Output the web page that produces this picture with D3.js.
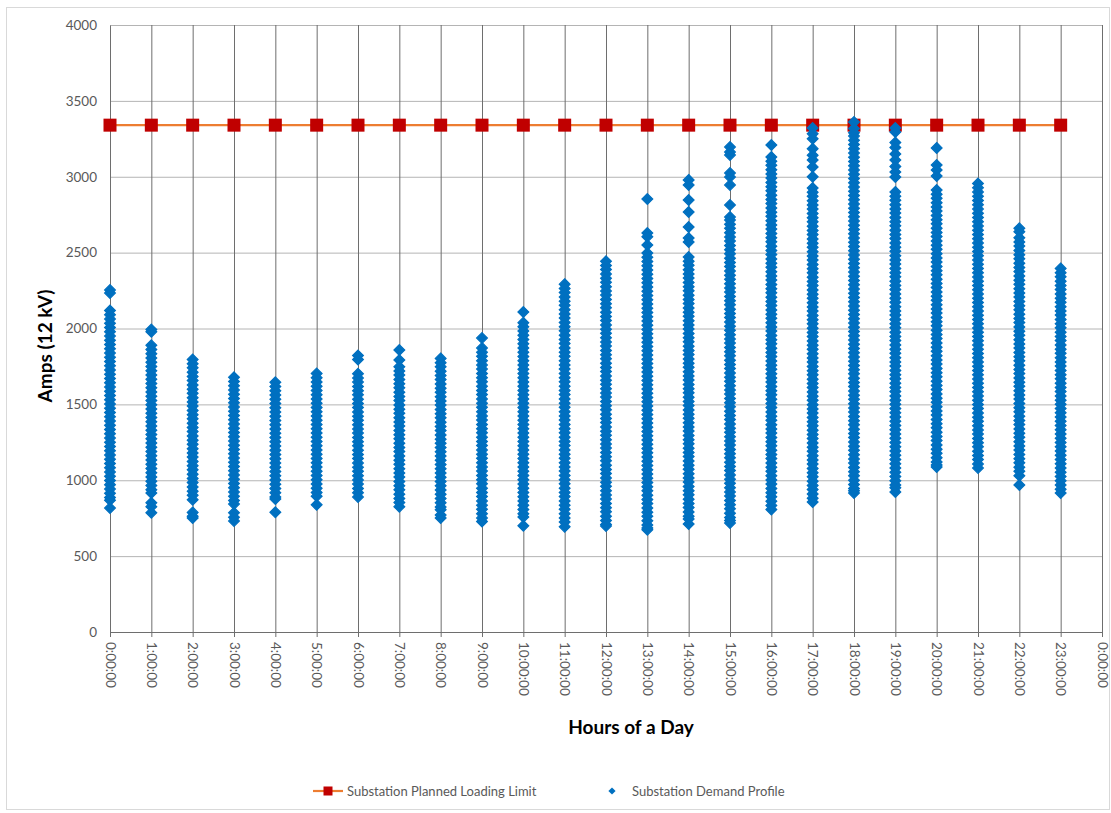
<!DOCTYPE html>
<html>
<head>
<meta charset="utf-8">
<script src="https://cdn.jsdelivr.net/npm/d3@7"></script>
<style>
  body { margin: 0; background: #fff; }
  text { font-family: Lato, "Open Sans", sans-serif; }
</style>
</head>
<body>
<div id="chart"></div>
<script>
// hours of the day (x categories) and their tick labels
var hours = d3.range(0, 25);
var hour_labels = ["0:00:00","1:00:00","2:00:00","3:00:00","4:00:00","5:00:00","6:00:00","7:00:00",
  "8:00:00","9:00:00","10:00:00","11:00:00","12:00:00","13:00:00","14:00:00","15:00:00","16:00:00",
  "17:00:00","18:00:00","19:00:00","20:00:00","21:00:00","22:00:00","23:00:00","0:00:00"];
var amp_ticks = [0, 500, 1000, 1500, 2000, 2500, 3000, 3500, 4000];

// planned loading limit, one marker per hour 0..23
var limit_hours = d3.range(0, 24);
var limit_value = 3340;

// demand readings (amps), one list per hour
var demand_h0 = [2254, 2234, 2118, 2090, 2063, 2034, 2006, 1979, 1950, 1922, 1895, 1866, 1838, 1811, 1782, 1754, 1727, 1698, 1670, 1643, 1614, 1586, 1559, 1530, 1502, 1475, 1446, 1418, 1391, 1362, 1334, 1307, 1278, 1250, 1223, 1194, 1166, 1139, 1110, 1082, 1055, 1026, 998, 971, 942, 914, 887, 868, 817];
var demand_h1 = [1993, 1978, 1889, 1861, 1834, 1805, 1777, 1750, 1721, 1693, 1666, 1637, 1609, 1582, 1553, 1525, 1498, 1469, 1441, 1414, 1385, 1357, 1330, 1301, 1273, 1246, 1217, 1189, 1162, 1133, 1105, 1078, 1049, 1021, 994, 965, 937, 916, 851, 826, 786];
var demand_h2 = [1796, 1768, 1741, 1712, 1684, 1657, 1628, 1600, 1573, 1544, 1516, 1489, 1460, 1432, 1405, 1376, 1348, 1321, 1292, 1264, 1237, 1208, 1180, 1153, 1124, 1096, 1069, 1040, 1012, 985, 956, 928, 901, 872, 788, 762, 752];
var demand_h3 = [1678, 1650, 1623, 1594, 1566, 1539, 1510, 1482, 1455, 1426, 1398, 1371, 1342, 1314, 1287, 1258, 1230, 1203, 1174, 1146, 1119, 1090, 1062, 1035, 1006, 978, 951, 922, 894, 867, 843, 786, 756, 732];
var demand_h4 = [1645, 1617, 1590, 1561, 1533, 1506, 1477, 1449, 1422, 1393, 1365, 1338, 1309, 1281, 1254, 1225, 1197, 1170, 1141, 1113, 1086, 1057, 1029, 1002, 973, 945, 918, 889, 876, 789];
var demand_h5 = [1703, 1675, 1648, 1619, 1591, 1564, 1535, 1507, 1480, 1451, 1423, 1396, 1367, 1339, 1312, 1283, 1255, 1228, 1199, 1171, 1144, 1115, 1087, 1060, 1031, 1003, 976, 947, 919, 895, 838];
var demand_h6 = [1822, 1796, 1702, 1674, 1647, 1618, 1590, 1563, 1534, 1506, 1479, 1450, 1422, 1395, 1366, 1338, 1311, 1282, 1254, 1227, 1198, 1170, 1143, 1114, 1086, 1059, 1030, 1002, 975, 946, 918, 889];
var demand_h7 = [1858, 1792, 1748, 1720, 1693, 1664, 1636, 1609, 1580, 1552, 1525, 1496, 1468, 1441, 1412, 1384, 1357, 1328, 1300, 1273, 1244, 1216, 1189, 1160, 1132, 1105, 1076, 1048, 1021, 992, 964, 937, 908, 880, 853, 826];
var demand_h8 = [1803, 1775, 1748, 1719, 1691, 1664, 1635, 1607, 1580, 1551, 1523, 1496, 1467, 1439, 1412, 1383, 1355, 1328, 1299, 1271, 1244, 1215, 1187, 1160, 1131, 1103, 1076, 1047, 1019, 992, 963, 935, 908, 879, 851, 824, 806, 771, 752];
var demand_h9 = [1937, 1872, 1844, 1817, 1788, 1760, 1733, 1704, 1676, 1649, 1620, 1592, 1565, 1536, 1508, 1481, 1452, 1424, 1397, 1368, 1340, 1313, 1284, 1256, 1229, 1200, 1172, 1145, 1116, 1088, 1061, 1032, 1004, 977, 948, 920, 893, 864, 836, 809, 780, 752, 728];
var demand_h10 = [2109, 2038, 2011, 1983, 1956, 1927, 1899, 1872, 1843, 1815, 1788, 1759, 1731, 1704, 1675, 1647, 1620, 1591, 1563, 1536, 1507, 1479, 1452, 1423, 1395, 1368, 1339, 1311, 1284, 1255, 1227, 1200, 1171, 1143, 1116, 1087, 1059, 1032, 1003, 975, 948, 919, 891, 864, 835, 807, 780, 758, 700];
var demand_h11 = [2292, 2264, 2237, 2208, 2180, 2153, 2124, 2096, 2069, 2040, 2012, 1985, 1956, 1928, 1901, 1872, 1844, 1817, 1788, 1760, 1733, 1704, 1676, 1649, 1620, 1592, 1565, 1536, 1508, 1481, 1452, 1424, 1397, 1368, 1340, 1313, 1284, 1256, 1229, 1200, 1172, 1145, 1116, 1088, 1061, 1032, 1004, 977, 948, 920, 893, 864, 836, 809, 780, 752, 725, 694];
var demand_h12 = [2443, 2415, 2388, 2359, 2331, 2304, 2275, 2247, 2220, 2191, 2163, 2136, 2107, 2079, 2052, 2023, 1995, 1968, 1939, 1911, 1884, 1855, 1827, 1800, 1771, 1743, 1716, 1687, 1659, 1632, 1603, 1575, 1548, 1519, 1491, 1464, 1435, 1407, 1380, 1351, 1323, 1296, 1267, 1239, 1212, 1183, 1155, 1128, 1099, 1071, 1044, 1015, 987, 960, 931, 903, 876, 847, 819, 792, 763, 735, 708, 698];
var demand_h13 = [2853, 2629, 2605, 2550, 2497, 2469, 2442, 2413, 2385, 2358, 2329, 2301, 2274, 2245, 2217, 2190, 2161, 2133, 2106, 2077, 2049, 2022, 1993, 1965, 1938, 1909, 1881, 1854, 1825, 1797, 1770, 1741, 1713, 1686, 1657, 1629, 1602, 1573, 1545, 1518, 1489, 1461, 1434, 1405, 1377, 1350, 1321, 1293, 1266, 1237, 1209, 1182, 1153, 1125, 1098, 1069, 1041, 1014, 985, 957, 930, 901, 873, 846, 817, 789, 762, 733, 705, 686, 674];
var demand_h14 = [2979, 2946, 2847, 2768, 2669, 2596, 2570, 2471, 2443, 2416, 2387, 2359, 2332, 2303, 2275, 2248, 2219, 2191, 2164, 2135, 2107, 2080, 2051, 2023, 1996, 1967, 1939, 1912, 1883, 1855, 1828, 1799, 1771, 1744, 1715, 1687, 1660, 1631, 1603, 1576, 1547, 1519, 1492, 1463, 1435, 1408, 1379, 1351, 1324, 1295, 1267, 1240, 1211, 1183, 1156, 1127, 1099, 1072, 1043, 1015, 988, 959, 931, 904, 875, 847, 820, 791, 763, 745, 712];
var demand_h15 = [3196, 3163, 3143, 3025, 2998, 2946, 2814, 2735, 2715, 2687, 2660, 2631, 2603, 2576, 2547, 2519, 2492, 2463, 2435, 2408, 2379, 2351, 2324, 2295, 2267, 2240, 2211, 2183, 2156, 2127, 2099, 2072, 2043, 2015, 1988, 1959, 1931, 1904, 1875, 1847, 1820, 1791, 1763, 1736, 1707, 1679, 1652, 1623, 1595, 1568, 1539, 1511, 1484, 1455, 1427, 1400, 1371, 1343, 1316, 1287, 1259, 1232, 1203, 1175, 1148, 1119, 1091, 1064, 1035, 1007, 980, 951, 923, 896, 867, 839, 812, 783, 755, 735, 718];
var demand_h16 = [3209, 3130, 3102, 3075, 3046, 3018, 2991, 2962, 2934, 2907, 2878, 2850, 2823, 2794, 2766, 2739, 2710, 2682, 2655, 2626, 2598, 2571, 2542, 2514, 2487, 2458, 2430, 2403, 2374, 2346, 2319, 2290, 2262, 2235, 2206, 2178, 2151, 2122, 2094, 2067, 2038, 2010, 1983, 1954, 1926, 1899, 1870, 1842, 1815, 1786, 1758, 1731, 1702, 1674, 1647, 1618, 1590, 1563, 1534, 1506, 1479, 1450, 1422, 1395, 1366, 1338, 1311, 1282, 1254, 1227, 1198, 1170, 1143, 1114, 1086, 1059, 1030, 1002, 975, 946, 918, 891, 862, 834, 807];
var demand_h17 = [3321, 3283, 3250, 3185, 3141, 3110, 3065, 3000, 2926, 2898, 2871, 2842, 2814, 2787, 2758, 2730, 2703, 2674, 2646, 2619, 2590, 2562, 2535, 2506, 2478, 2451, 2422, 2394, 2367, 2338, 2310, 2283, 2254, 2226, 2199, 2170, 2142, 2115, 2086, 2058, 2031, 2002, 1974, 1947, 1918, 1890, 1863, 1834, 1806, 1779, 1750, 1722, 1695, 1666, 1638, 1611, 1582, 1554, 1527, 1498, 1470, 1443, 1414, 1386, 1359, 1330, 1302, 1275, 1246, 1218, 1191, 1162, 1134, 1107, 1078, 1050, 1023, 994, 966, 939, 910, 882, 857];
var demand_h18 = [3361, 3318, 3290, 3268, 3240, 3213, 3184, 3156, 3129, 3100, 3072, 3045, 3016, 2988, 2961, 2932, 2904, 2877, 2848, 2820, 2793, 2764, 2736, 2709, 2680, 2652, 2625, 2596, 2568, 2541, 2512, 2484, 2457, 2428, 2400, 2373, 2344, 2316, 2289, 2260, 2232, 2205, 2176, 2148, 2121, 2092, 2064, 2037, 2008, 1980, 1953, 1924, 1896, 1869, 1840, 1812, 1785, 1756, 1728, 1701, 1672, 1644, 1617, 1588, 1560, 1533, 1504, 1476, 1449, 1420, 1392, 1365, 1336, 1308, 1281, 1252, 1224, 1197, 1168, 1140, 1113, 1084, 1056, 1029, 1000, 972, 945, 930, 916];
var demand_h19 = [3321, 3295, 3225, 3192, 3150, 3110, 3068, 3031, 2998, 2900, 2872, 2845, 2816, 2788, 2761, 2732, 2704, 2677, 2648, 2620, 2593, 2564, 2536, 2509, 2480, 2452, 2425, 2396, 2368, 2341, 2312, 2284, 2257, 2228, 2200, 2173, 2144, 2116, 2089, 2060, 2032, 2005, 1976, 1948, 1921, 1892, 1864, 1837, 1808, 1780, 1753, 1724, 1696, 1669, 1640, 1612, 1585, 1556, 1528, 1501, 1472, 1444, 1417, 1388, 1360, 1333, 1304, 1276, 1249, 1220, 1192, 1165, 1136, 1108, 1081, 1052, 1024, 997, 968, 950, 923];
var demand_h20 = [3190, 3077, 3045, 3005, 2913, 2885, 2858, 2829, 2801, 2774, 2745, 2717, 2690, 2661, 2633, 2606, 2577, 2549, 2522, 2493, 2465, 2438, 2409, 2381, 2354, 2325, 2297, 2270, 2241, 2213, 2186, 2157, 2129, 2102, 2073, 2045, 2018, 1989, 1961, 1934, 1905, 1877, 1850, 1821, 1793, 1766, 1737, 1709, 1682, 1653, 1625, 1598, 1569, 1541, 1514, 1485, 1457, 1430, 1401, 1373, 1346, 1317, 1289, 1262, 1233, 1205, 1178, 1149, 1121, 1100, 1088];
var demand_h21 = [2955, 2927, 2900, 2871, 2843, 2816, 2787, 2759, 2732, 2703, 2675, 2648, 2619, 2591, 2564, 2535, 2507, 2480, 2451, 2423, 2396, 2367, 2339, 2312, 2283, 2255, 2228, 2199, 2171, 2144, 2115, 2087, 2060, 2031, 2003, 1976, 1947, 1919, 1892, 1863, 1835, 1808, 1779, 1751, 1724, 1695, 1667, 1640, 1611, 1583, 1556, 1527, 1499, 1472, 1443, 1415, 1388, 1359, 1331, 1304, 1275, 1247, 1220, 1191, 1163, 1136, 1107, 1081];
var demand_h22 = [2660, 2638, 2598, 2570, 2543, 2514, 2486, 2459, 2430, 2402, 2375, 2346, 2318, 2291, 2262, 2234, 2207, 2178, 2150, 2123, 2094, 2066, 2039, 2010, 1982, 1955, 1926, 1898, 1871, 1842, 1814, 1787, 1758, 1730, 1703, 1674, 1646, 1619, 1590, 1562, 1535, 1506, 1478, 1451, 1422, 1394, 1367, 1338, 1310, 1283, 1254, 1226, 1199, 1170, 1142, 1115, 1086, 1060, 1030, 969];
var demand_h23 = [2396, 2368, 2341, 2312, 2284, 2257, 2228, 2200, 2173, 2144, 2116, 2089, 2060, 2032, 2005, 1976, 1948, 1921, 1892, 1864, 1837, 1808, 1780, 1753, 1724, 1696, 1669, 1640, 1612, 1585, 1556, 1528, 1501, 1472, 1444, 1417, 1388, 1360, 1333, 1304, 1276, 1249, 1220, 1192, 1165, 1136, 1108, 1081, 1052, 1024, 997, 968, 940, 916];

var demand_by_hour = [demand_h0, demand_h1, demand_h2, demand_h3, demand_h4, demand_h5, demand_h6, demand_h7,
  demand_h8, demand_h9, demand_h10, demand_h11, demand_h12, demand_h13, demand_h14, demand_h15, demand_h16,
  demand_h17, demand_h18, demand_h19, demand_h20, demand_h21, demand_h22, demand_h23];

var legend_names = ["Substation Planned Loading Limit", "Substation Demand Profile"];

function render(id_name){
    var width = 1111, height = 813;
    var margin = {top: 25, right: 9, bottom: 181, left: 110};
    var plot_w = width - margin.left - margin.right,
        plot_h = height - margin.top - margin.bottom;

    var svg = d3.select(id_name).append("svg")
        .attr("width", width)
        .attr("height", height);

    // outer chart border
    svg.append("rect")
        .attr("x", 6.5).attr("y", 7.5)
        .attr("width", 1103).attr("height", 802)
        .attr("fill", "#fff")
        .attr("stroke", "#d9d9d9");

    var g = svg.append("g")
        .attr("transform", "translate(" + margin.left + "," + margin.top + ")");

    var x = d3.scaleLinear().domain([0, 24]).range([0, plot_w]);
    var y = d3.scaleLinear().domain([0, 4000]).range([plot_h, 0]);

    // horizontal grid
    g.append("g")
        .call(d3.axisLeft(y).tickValues(amp_ticks).tickSize(-plot_w).tickFormat(""))
        .call(function(a){
            a.select(".domain").remove();
            a.selectAll("line").attr("stroke", "#b4b4b4");
        });

    // vertical grid, one per hour
    g.append("g")
        .attr("transform", "translate(0," + plot_h + ")")
        .call(d3.axisBottom(x).tickValues(hours.slice(1)).tickSize(plot_h).tickSizeOuter(0).tickFormat(""))
        .call(function(a){
            a.select(".domain").remove();
            a.selectAll("line").attr("stroke", "#6e6e6e").attr("transform", "translate(0," + (-plot_h) + ")");
        });

    // y axis labels
    g.append("g")
        .call(d3.axisLeft(y).tickValues(amp_ticks).tickSize(0).tickPadding(13).tickFormat(d3.format("d")))
        .call(function(a){
            a.select(".domain").attr("stroke", "#6e6e6e");
            a.selectAll("text")
                .attr("fill", "#595959")
                .style("font-size", "13.5px");
        });

    // x axis with rotated labels
    g.append("g")
        .attr("transform", "translate(0," + plot_h + ")")
        .call(d3.axisBottom(x).tickValues(hours).tickSize(5).tickSizeOuter(0)
            .tickFormat(function(d, i){ return hour_labels[i]; }))
        .call(function(a){
            a.select(".domain").attr("stroke", "#6e6e6e").attr("stroke-width", 1.2);
            a.selectAll("line").attr("stroke", "#6e6e6e");
            a.selectAll("text")
                .attr("fill", "#595959")
                .attr("x", 10)
                .attr("y", 0)
                .attr("dy", "0.35em")
                .attr("transform", "rotate(90)")
                .style("text-anchor", "start")
                .style("font-size", "13.5px");
        });

    // limit line and its square markers (first series, drawn underneath)
    g.append("path")
        .datum(limit_hours)
        .attr("fill", "none")
        .attr("stroke", "#ed7d31")
        .attr("stroke-width", 2.2)
        .attr("d", d3.line()
            .x(function(d){ return x(d); })
            .y(function(){ return y(limit_value); }));

    g.append("g").selectAll("rect")
        .data(limit_hours)
        .enter()
        .append("rect")
            .attr("x", function(d){ return x(d) - 6.5; })
            .attr("y", y(limit_value) - 6.5)
            .attr("width", 13)
            .attr("height", 13)
            .attr("fill", "#c00000");

    // demand points (diamonds, with a thin border like the excel markers)
    var points = [];
    demand_by_hour.forEach(function(list, h){
        list.forEach(function(v){ points.push([h, v]); });
    });
    var diamond = "M0,-5.4L5.4,0L0,5.4L-5.4,0Z";
    g.append("g").selectAll("path")
        .data(points)
        .enter()
        .append("path")
            .attr("d", diamond)
            .attr("transform", function(d){ return "translate(" + x(d[0]) + "," + y(d[1]) + ")"; })
            .attr("fill", "#0070c0")
            .attr("stroke", "#0070c0")
            .attr("stroke-width", 1.2);

    // axis titles
    svg.append("text")
        .attr("x", 631)
        .attr("y", 727)
        .attr("dy", "0.35em")
        .attr("text-anchor", "middle")
        .style("font-size", "19px")
        .style("font-weight", "bold")
        .attr("fill", "#000")
        .text("Hours of a Day");

    svg.append("text")
        .attr("transform", "translate(45,346) rotate(-90)")
        .attr("dy", "0.35em")
        .attr("text-anchor", "middle")
        .style("font-size", "19px")
        .style("font-weight", "bold")
        .attr("fill", "#000")
        .text("Amps (12 kV)");

    // legend
    var leg = svg.append("g").attr("transform", "translate(0,791)");
    leg.append("line")
        .attr("x1", 313).attr("x2", 343)
        .attr("stroke", "#ed7d31").attr("stroke-width", 2.2);
    leg.append("rect")
        .attr("x", 323.5).attr("y", -4.5).attr("width", 9).attr("height", 9)
        .attr("fill", "#c00000");
    leg.append("text")
        .attr("x", 347).attr("dy", "0.35em")
        .attr("fill", "#595959")
        .style("font-size", "13px")
        .text(legend_names[0]);
    leg.append("path")
        .attr("d", "M0,-3.6L3.6,0L0,3.6L-3.6,0Z")
        .attr("transform", "translate(612,0)")
        .attr("fill", "#0070c0");
    leg.append("text")
        .attr("x", 632).attr("dy", "0.35em")
        .attr("fill", "#595959")
        .style("font-size", "13px")
        .text(legend_names[1]);
}

render("#chart");
</script>
</body>
</html>
